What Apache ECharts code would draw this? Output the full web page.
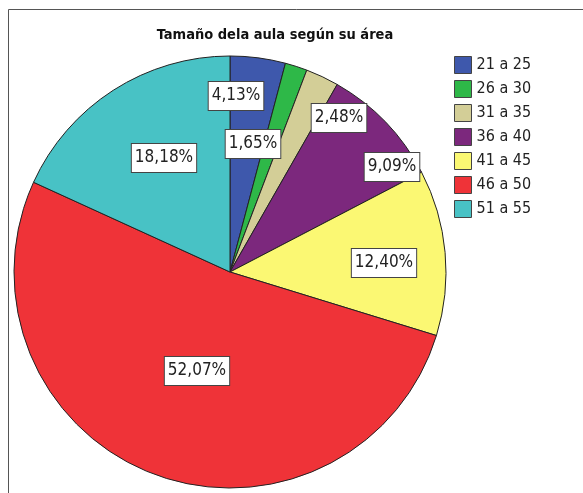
<!DOCTYPE html>
<html>
<head>
<meta charset="utf-8">
<script src="https://cdn.jsdelivr.net/npm/echarts@6/dist/echarts.min.js"></script>
<style>
  html, body { margin: 0; padding: 0; background: #fff; }
  #chart { width: 583px; height: 493px; }
</style>
</head>
<body>
<div id="chart"></div>
<script>
// data (counts, n = 121)
const categories = ["21 a 25", "26 a 30", "31 a 35", "36 a 40", "41 a 45", "46 a 50", "51 a 55"];
const counts = [5, 2, 3, 11, 15, 63, 22];
const percentLabels = ["4,13%", "1,65%", "2,48%", "9,09%", "12,40%", "52,07%", "18,18%"];
const colors = ["#3e58ac", "#2eb848", "#d3ce97", "#7c287d", "#fbf873", "#ef3338", "#48c2c5"];

// where SPSS dropped each label box (page pixels)
const labelSpots = [[236, 96], [253, 144], [339, 118], [392, 167], [384, 263], [197, 371], [164, 158]];

const font = '"DejaVu Sans Condensed", "DejaVu Sans", sans-serif';

const chart = echarts.init(document.getElementById("chart"));

chart.setOption({
  animation: false,
  color: colors,
  title: {
    text: "Tamaño dela aula según su área",
    left: 270,
    top: 23,
    textAlign: "center",
    textStyle: { fontFamily: font, fontSize: 14.5, fontWeight: "bold", color: "#111" }
  },
  legend: {
    orient: "vertical",
    left: 449,
    top: 51,
    icon: "rect",
    itemWidth: 17,
    itemHeight: 17,
    itemGap: 6,
    selectedMode: false,
    itemStyle: { borderColor: "#444", borderWidth: 1 },
    textStyle: { fontFamily: font, fontSize: 16, color: "#222" },
    data: categories
  },
  graphic: [{
    type: "rect",
    shape: { x: 8.5, y: 9.5, width: 700, height: 700 },
    style: { fill: "none", stroke: "#555", lineWidth: 1 },
    silent: true
  }],
  series: [{
    type: "pie",
    center: [230, 272],
    radius: 216,
    startAngle: 90,
    clockwise: true,
    silent: true,
    itemStyle: { borderColor: "#222", borderWidth: 1 },
    label: {
      show: true,
      position: "inside",
      formatter: p => percentLabels[p.dataIndex],
      fontFamily: font,
      fontSize: 17,
      color: "#222",
      backgroundColor: "#fff",
      borderColor: "#444",
      borderWidth: 1,
      padding: [6, 3, 5, 3]
    },
    labelLine: { show: false },
    labelLayout: function (params) {
      const s = labelSpots[params.dataIndex];
      return { x: s[0], y: s[1], align: "center", verticalAlign: "middle" };
    },
    data: categories.map((c, i) => ({ name: c, value: counts[i] }))
  }]
});
</script>
</body>
</html>
